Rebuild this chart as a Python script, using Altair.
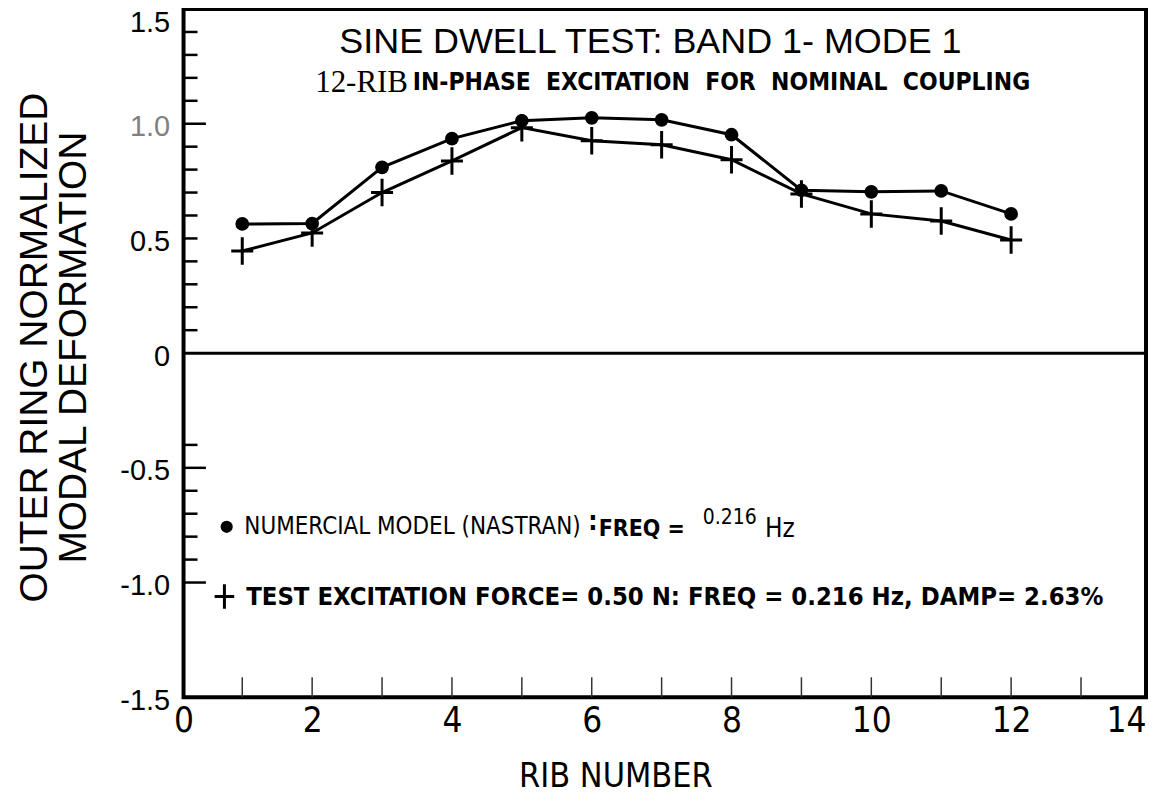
import altair as alt
import pandas as pd

# ---------------- data ----------------
ribs = [1, 2, 3, 4, 5, 6, 7, 8, 9, 10, 11, 12]
model_vals = [0.563, 0.565, 0.81, 0.935, 1.013, 1.026, 1.017, 0.952, 0.71, 0.703, 0.707, 0.607]
test_vals = [0.445, 0.524, 0.70, 0.838, 0.983, 0.926, 0.908, 0.843, 0.694, 0.607, 0.576, 0.493]

x_min, x_max = 0.16, 13.93
y_min, y_max = -1.5, 1.5
x_label_vals = [0.16, 2, 4, 6, 8, 10, 12, 13.93]
y_label_vals = [-1.5, -1.0, -0.5, 0, 0.5, 1.0, 1.5]
x_tick_vals = [1, 2, 3, 4, 5, 6, 7, 8, 9, 10, 11, 12, 13]
y_minor_ticks = [1.4, 1.3, 1.2, 1.1, 0.9, 0.8, 0.7, 0.6, 0.5, 0.4, 0.3, 0.2, 0.1,
                 -0.4, -0.6, -0.7, -0.8, -0.9]
y_major_ticks = [1.0, -0.5, -1.0]

title_text = "SINE DWELL TEST: BAND 1- MODE 1"
sub_serif = "12-RIB"
sub_bold = "IN-PHASE\u00a0 EXCITATION\u00a0 FOR\u00a0 NOMINAL\u00a0 COUPLING"
leg1_text = "NUMERCIAL MODEL (NASTRAN)"
leg1_colon = ":"
leg1_freq = "FREQ ="
leg1_val = "0.216"
leg1_hz = "Hz"
leg2_text = "TEST EXCITATION FORCE= 0.50 N: FREQ = 0.216 Hz, DAMP= 2.63%"

SANS = "Liberation Sans, Arial, Helvetica, sans-serif"
NARROW = "DejaVu Sans Condensed, Liberation Sans Narrow, sans-serif"
SERIF = "Liberation Serif, Times New Roman, serif"

# ---------------- scales / axes ----------------
xs = alt.Scale(domain=[x_min, x_max], nice=False, zero=False)
ys = alt.Scale(domain=[y_min, y_max], nice=False, zero=False)

xaxis = alt.Axis(
    values=x_label_vals,
    labelExpr="datum.value < 1 ? '0' : format(round(datum.value), 'd')",
    ticks=False, domain=False, grid=False,
    labelFont=NARROW, labelFontSize=35, labelColor="black",
    labelAlign={"condition": {"test": "datum.value > 13", "value": "right"}, "value": "center"},
    labelPadding=6, labelFlush=False, labelOverlap=False,
    title="RIB NUMBER", titleFont=NARROW, titleFontSize=34,
    titleFontWeight="normal", titleColor="black",
    titlePadding=22, titleX=433, titleAlign="center",
)
yaxis = alt.Axis(
    values=y_label_vals,
    labelExpr="datum.value == 0 ? '0' : (datum.value < 0 ? '-' : '') + format(abs(datum.value), '.1f')",
    ticks=False, domain=False, grid=False,
    labelFont=SANS, labelFontSize=29,
    labelColor={"condition": {"test": "datum.value == 1", "value": "#808080"}, "value": "black"},
    labelOffset={"condition": {"test": "datum.value == 1.5", "value": 14}, "value": 3},
    labelPadding=14,
    title=["OUTER RING NORMALIZED", "MODAL DEFORMATION"],
    titleFont=SANS, titleFontSize=39, titleFontWeight="normal", titleColor="black",
    titleAngle=270, titleX=-168, titleY=339, titleAlign="center",
    titleBaseline="top", titleLineHeight=39,
)


def X(f="x"):
    return alt.X(f"{f}:Q", scale=xs, axis=xaxis)


def Y(f="y"):
    return alt.Y(f"{f}:Q", scale=ys, axis=yaxis)


# ---------------- tables ----------------
series_df = pd.DataFrame(
    {"x": ribs * 2, "y": model_vals + test_vals,
     "series": ["model"] * len(ribs) + ["test"] * len(ribs)}
)
model_df = pd.DataFrame({"x": ribs, "y": model_vals})
test_df = pd.DataFrame({"x": ribs, "y": test_vals})

zero_df = pd.DataFrame({"y": [0]})
xt_df = pd.DataFrame({"x": x_tick_vals, "y": [y_min] * len(x_tick_vals),
                      "y2": [y_min + 0.087] * len(x_tick_vals)})
ymin_df = pd.DataFrame({"y": y_minor_ticks, "x": [x_min] * len(y_minor_ticks),
                        "x2": [x_min + 0.2] * len(y_minor_ticks)})
ymaj_df = pd.DataFrame({"y": y_major_ticks, "x": [x_min] * len(y_major_ticks),
                        "x2": [x_min + 0.32] * len(y_major_ticks)})

# ---------------- layers ----------------
zero_line = alt.Chart(zero_df).mark_rule(color="black", strokeWidth=3).encode(y=Y())

x_ticks = alt.Chart(xt_df).mark_rule(color="#333333", strokeWidth=1.5).encode(
    x=X(), y=Y(), y2="y2:Q")
y_ticks_minor = alt.Chart(ymin_df).mark_rule(color="black", strokeWidth=2.5).encode(
    x=X(), x2="x2:Q", y=Y())
y_ticks_major = alt.Chart(ymaj_df).mark_rule(color="black", strokeWidth=2.5).encode(
    x=X(), x2="x2:Q", y=Y())

lines = alt.Chart(series_df).mark_line(color="black", strokeWidth=3).encode(
    x=X(), y=Y(), detail="series:N")

dots = alt.Chart(model_df).mark_point(
    shape="circle", filled=True, color="black", size=190, opacity=1).encode(x=X(), y=Y())

CROSS = "M-0.8,0H0.8M0,-1V1"
crosses = alt.Chart(test_df).mark_point(
    shape=CROSS, filled=False, stroke="black", strokeWidth=3, size=760, opacity=1
).encode(x=X(), y=Y())


def text_layer(text, x, y, font, size, weight="normal", align="left", baseline="middle"):
    df = pd.DataFrame({"x": [x], "y": [y], "t": [text]})
    return alt.Chart(df).mark_text(
        font=font, fontSize=size, fontWeight=weight, align=align,
        baseline=baseline, color="black").encode(x=X(), y=Y(), text="t:N")


t_title = text_layer(title_text, 6.84, 1.355, SANS, 36, align="center")
t_sub1 = text_layer(sub_serif, 3.37, 1.178, SERIF, 31, align="right")
t_sub2 = text_layer(sub_bold, 3.44, 1.178, NARROW, 24.5, weight="bold")
t_l1 = text_layer(leg1_text, 1.03, -0.757, NARROW, 24)
t_l1c = text_layer(leg1_colon, 5.95, -0.735, NARROW, 26, weight="bold")
t_l1f = text_layer(leg1_freq, 6.10, -0.768, NARROW, 23, weight="bold")
t_l1v = text_layer(leg1_val, 7.59, -0.717, NARROW, 21)
t_l1h = text_layer(leg1_hz, 8.48, -0.765, NARROW, 26)
t_l2 = text_layer(leg2_text, 1.056, -1.061, NARROW, 25.5, weight="bold")

leg_dot = alt.Chart(pd.DataFrame({"x": [0.777], "y": [-0.757]})).mark_point(
    shape="circle", filled=True, color="black", size=150, opacity=1).encode(x=X(), y=Y())
leg_cross = alt.Chart(pd.DataFrame({"x": [0.745], "y": [-1.061]})).mark_point(
    shape=CROSS, filled=False, stroke="black", strokeWidth=3, size=600, opacity=1
).encode(x=X(), y=Y())

chart = alt.layer(
    zero_line, x_ticks, y_ticks_minor, y_ticks_major, lines, dots, crosses,
    t_title, t_sub1, t_sub2, t_l1, t_l1c, t_l1f, t_l1v, t_l1h, t_l2,
    leg_dot, leg_cross,
).properties(
    width=965, height=690,
    autosize=alt.AutoSizeParams(type="none"),
    padding={"left": 176, "top": 0, "right": 6, "bottom": 100},
    background="white",
).configure_view(stroke="black", strokeWidth=4)

chart.save("out.html", embed_options={"renderer": "svg", "actions": False})
